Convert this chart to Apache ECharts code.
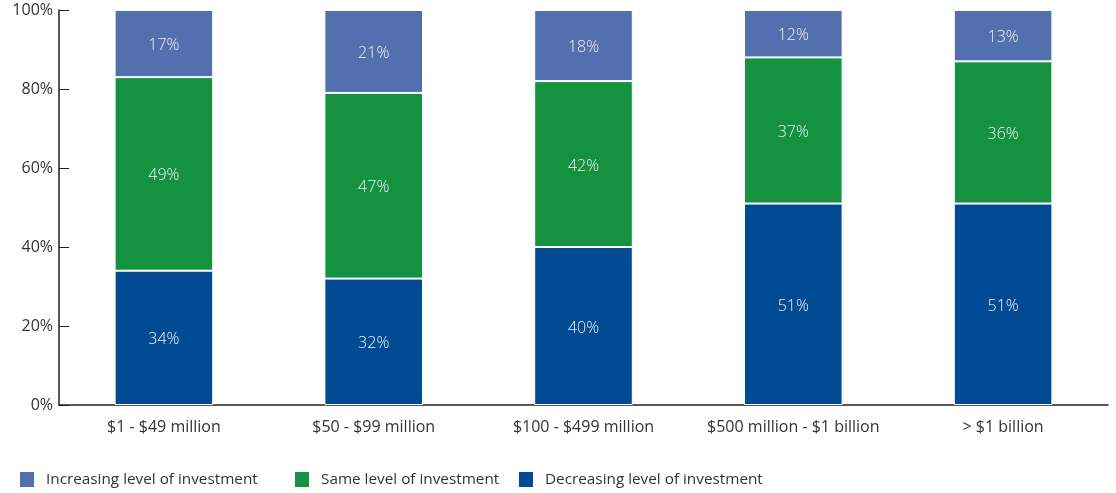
<!DOCTYPE html>
<html><head><meta charset="utf-8">
<script src="https://cdn.jsdelivr.net/npm/echarts@6/dist/echarts.min.js"></script>
<style>html,body{margin:0;padding:0;background:#fff}#c{width:1116px;height:493px}</style>
</head><body><div id="c"></div>
<script>
const categories = ["$1 - $49 million", "$50 - $99 million", "$100 - $499 million", "$500 million - $1 billion", "> $1 billion"];
const decreasing = [34, 32, 40, 51, 51];
const same = [49, 47, 42, 37, 36];
const increasing = [17, 21, 18, 12, 13];
const yTicks = [0, 20, 40, 60, 80, 100];
const legendNames = ['Increasing level of investment', 'Same level of investment', 'Decreasing level of investment'];
const legendLeft = [18, 293, 517];

const font = "'Open Sans', 'Noto Sans', sans-serif";
const chart = echarts.init(document.getElementById('c'), null, {renderer: 'canvas'});
function ser(name, data, color) {
  return {
    name, type: 'bar', stack: 'a', data, barWidth: '47%',
    itemStyle: {color, borderColor: '#fff', borderWidth: 1},
    label: {show: true, position: 'inside', offset: [0, 2], formatter: '{c}%', color: '#eef0f5', fontSize: 16, fontFamily: font, fontWeight: 300},
    emphasis: {disabled: true}
  };
}
chart.setOption({
  animation: false,
  textStyle: {fontFamily: font},
  grid: {left: 59, right: 8, top: 10, bottom: 88},
  legend: legendNames.map((n, i) => ({
    left: legendLeft[i] - 5, bottom: -1, itemWidth: 16, itemHeight: 17,
    icon: 'rect',
    textStyle: {fontSize: 15.3, color: '#333', fontFamily: font, padding: [0, 0, 0, 6]},
    data: [n]
  })),
  xAxis: {
    type: 'category', data: categories,
    axisLine: {lineStyle: {color: '#222', width: 1.5}},
    axisTick: {inside: true, length: 10, lineStyle: {color: '#222'}},
    axisLabel: {interval: 0, color: '#333', fontSize: 16, margin: 14, fontFamily: font}
  },
  yAxis: {
    type: 'value', min: 0, max: 100, interval: 20,
    axisLine: {show: true, lineStyle: {color: '#222', width: 1.5}},
    axisTick: {show: true, inside: true, length: 10, lineStyle: {color: '#222'}},
    splitLine: {show: false},
    axisLabel: {color: '#333', fontSize: 16, margin: 6, fontFamily: font,
      formatter: v => yTicks.includes(v) ? v + '%' : ''}
  },
  series: [
    ser('Decreasing level of investment', decreasing, '#004b93'),
    ser('Same level of investment', same, '#14923f'),
    ser('Increasing level of investment', increasing, '#536fae')
  ]
});
</script></body></html>
